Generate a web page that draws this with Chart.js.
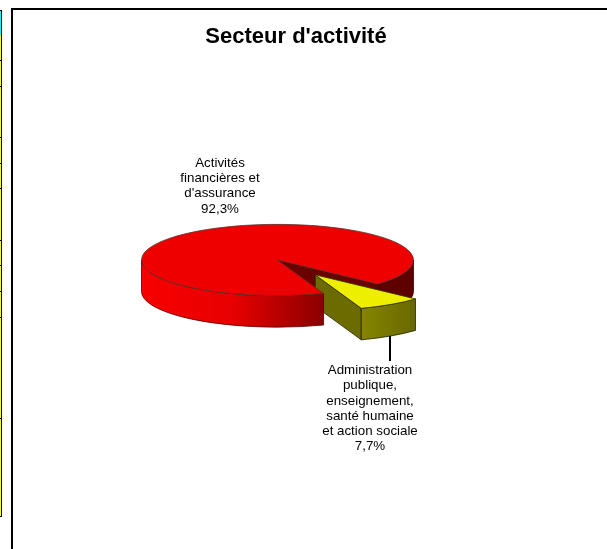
<!DOCTYPE html>
<html lang="fr">
<head>
<meta charset="utf-8">
<title>Secteur d'activité</title>
<script src="https://cdn.jsdelivr.net/npm/chart.js@4"></script>
<style>
  html, body { margin: 0; padding: 0; background: #fff; overflow: hidden; }
  #page { position: relative; width: 607px; height: 549px; }
  #panel { position: absolute; left: 11px; top: 8px; right: 0; bottom: 0;
           border-left: 2px solid #000; border-top: 2px solid #000; }
  #chart { position: absolute; left: 0; top: 0; }
  .cell { position: absolute; left: 0; width: 1px; border-right: 1px solid #000; border-bottom: 1px solid #000; }
</style>
</head>
<body>
<div id="page">
  <div id="panel"></div>
  <canvas id="chart" width="607" height="549"></canvas>
</div>
<script>
const categories = ["Activités financières et d'assurance",
                    'Administration publique, enseignement, santé humaine et action sociale'];
const shares     = [92.3, 7.7];
const shareText  = ['92,3%', '7,7%'];
const labelLines = [['Activités', 'financières et', "d'assurance"],
                    ['Administration', 'publique,', 'enseignement,', 'santé humaine', 'et action sociale']];
const explode    = [0, 0.5];

// Row edges of the neighbouring sheet table, cut off at the left edge
const cutRows = [10, 35, 61, 87, 138, 164, 189, 241, 266, 292, 318, 419, 517];

const SQUASH = 0.262;   // ellipse height / width
const DEPTH  = 31.5;    // pie thickness in px

// neighbouring table sliver
const page = document.getElementById('page');
cutRows.slice(0, -1).forEach((y, i) => {
    const d = document.createElement('div');
    d.className = 'cell';
    d.style.top = y + 'px';
    d.style.height = (cutRows[i + 1] - y - 1) + 'px';
    d.style.background = i === 0 ? '#00ffff' : '#ffff00';
    if (i === 0) d.style.borderTop = '1px solid #000';
    page.appendChild(d);
});

function hGrad(ctx, x0, x1, stops) {
    const g = ctx.createLinearGradient(x0, 0, x1, 0);
    stops.forEach(s => g.addColorStop(s[0], s[1]));
    return g;
}

// Paths are built squashed, strokes go on unsquashed so the outline stays even
function paint(ctx, cy, buildPath, fill, stroke) {
    ctx.save();
    ctx.translate(0, cy);
    ctx.scale(1, SQUASH);
    ctx.translate(0, -cy);
    ctx.beginPath();
    buildPath();
    if (fill) { ctx.fillStyle = typeof fill === 'function' ? fill() : fill; ctx.fill(); }
    ctx.restore();
    ctx.strokeStyle = stroke;
    ctx.stroke();
}

const pie3d = {
    id: 'pie3d',
    beforeDatasetDraw(chart, args) {
        const ctx = chart.ctx;
        const [red, yellow] = args.meta.data;
        const cx = red.x, cy = red.y, r = red.outerRadius;
        const d = DEPTH / SQUASH;

        // move the exploded slice along its middle angle
        const mid = (yellow.startAngle + yellow.endAngle) / 2;
        const ox = Math.cos(mid) * r * explode[1];
        const oy = Math.sin(mid) * r * explode[1];

        const rim = (x, y, a0, a1) => () => {
            ctx.arc(x, y, r, a0, a1);
            ctx.arc(x, y + d, r, a1, a0, true);
            ctx.closePath();
        };
        const cut = (x, y, a) => () => {
            const ex = x + Math.cos(a) * r, ey = y + Math.sin(a) * r;
            ctx.moveTo(x, y);
            ctx.lineTo(ex, ey);
            ctx.lineTo(ex, ey + d);
            ctx.lineTo(x, y + d);
            ctx.closePath();
        };
        const top = (x, y, a0, a1) => () => {
            ctx.moveTo(x, y);
            ctx.arc(x, y, r, a0, a1);
            ctx.closePath();
        };

        ctx.save();
        ctx.lineWidth = 0.8;

        // red: back cut face and right rim go under the yellow slice
        paint(ctx, cy, cut(cx, cy, red.endAngle), '#6a0000', '#3a0000');
        paint(ctx, cy, rim(cx, cy, 0, red.endAngle - Math.PI * 2), '#5f0000', '#3a0000');

        // yellow walls and top
        const yx = cx + ox, yy = cy + oy;
        paint(ctx, cy, cut(yx, yy, yellow.endAngle), '#6b6b00', '#222200');
        paint(ctx, cy, rim(yx, yy, yellow.startAngle, yellow.endAngle),
              () => hGrad(ctx, yx + Math.cos(yellow.endAngle) * r, yx + Math.cos(yellow.startAngle) * r,
                          [[0, '#858500'], [1, '#686800']]),
              '#222200');
        ctx.save();
        ctx.translate(0, cy);
        ctx.scale(1, SQUASH);
        ctx.translate(ox, oy - cy);
        yellow.draw(ctx);
        ctx.restore();
        paint(ctx, cy, top(yx, yy, yellow.startAngle, yellow.endAngle), null, '#333300');

        // red: front rim and top hide the inner corner of the yellow slice
        const fx = cx + Math.cos(red.startAngle) * r;
        paint(ctx, cy, rim(cx, cy, red.startAngle, Math.PI),
              () => hGrad(ctx, cx - r, fx, [[0, '#f80000'], [0.5, '#e80000'], [1, '#8a0000']]),
              '#500000');
        ctx.save();
        ctx.translate(0, cy);
        ctx.scale(1, SQUASH);
        ctx.translate(0, -cy);
        red.draw(ctx);
        ctx.restore();
        paint(ctx, cy, top(cx, cy, red.startAngle, red.endAngle), null, '#5a3030');

        ctx.restore();
        return false;
    },
    afterDraw(chart) {
        const ctx = chart.ctx;
        ctx.save();
        ctx.fillStyle = '#000';
        ctx.textAlign = 'center';
        ctx.textBaseline = 'middle';

        ctx.font = 'bold 22px "Liberation Sans", Arial, sans-serif';
        ctx.fillText("Secteur d'activité", 296, 37);

        // leader line of the small slice
        ctx.strokeStyle = '#000';
        ctx.lineWidth = 2;
        ctx.beginPath();
        ctx.moveTo(390, 336);
        ctx.lineTo(390, 361);
        ctx.stroke();

        ctx.font = '13.33px "Liberation Sans", Arial, sans-serif';
        [[220, 163, 15.3], [370, 370.5, 15.2]].forEach((pos, i) => {
            labelLines[i].concat(shareText[i]).forEach((line, j) => {
                ctx.fillText(line, pos[0], pos[1] + j * pos[2]);
            });
        });
        ctx.restore();
    }
};

new Chart(document.getElementById('chart'), {
    type: 'pie',
    data: {
        labels: categories,
        datasets: [{
            data: shares,
            backgroundColor: ['#ee0000', '#eeee00'],
            borderWidth: 0,
            clip: false
        }]
    },
    options: {
        responsive: false,
        animation: false,
        radius: 136,
        rotation: 160.2,
        layout: { padding: { left: 0, top: 0, right: 52, bottom: 29 } },
        plugins: {
            legend: { display: false },
            title: { display: false },
            tooltip: { enabled: false }
        }
    },
    plugins: [pie3d]
});
</script>
</body>
</html>
